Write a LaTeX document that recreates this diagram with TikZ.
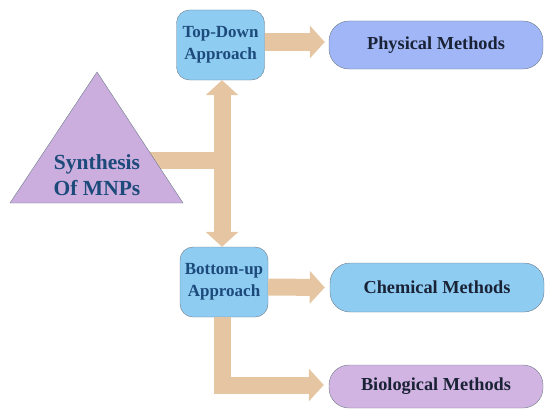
\documentclass[tikz,border=0pt]{standalone}
\usepackage{fontspec}
\setmainfont{Liberation Serif}
\usetikzlibrary{arrows.meta}
\definecolor{arrowc}{HTML}{E6C6A2}
\definecolor{skyb}{HTML}{8ECCF2}
\definecolor{peri}{HTML}{A0B6F7}
\definecolor{lav}{HTML}{D2B4E2}
\definecolor{trif}{HTML}{CBAEDE}
\definecolor{edgec}{HTML}{6E7C8A}
\definecolor{navy}{HTML}{1C4A7A}
\definecolor{dark}{HTML}{1A2236}
\tikzset{
  fatarrow/.style={draw=arrowc, line width=17pt, -{Triangle[width=32pt,length=15pt]}},
  fatline/.style={draw=arrowc, line width=17pt},
  appbox/.style={draw=edgec, fill=skyb, rounded corners=13pt, minimum width=88pt, minimum height=70pt, inner sep=0pt, align=center, font=\bfseries\fontsize{17}{22}\selectfont, text=navy},
  methbox/.style={draw=edgec, rounded corners=20pt, minimum width=214pt, inner sep=0pt, font=\bfseries\fontsize{18.3}{20}\selectfont, text=dark}
}
\begin{document}
\begin{tikzpicture}[x=1pt,y=-1pt]
\useasboundingbox (0,0) rectangle (545,412);
% nodes
\node[appbox] (top) at (220.5,45) {Top-Down\\Approach};
\node[appbox] (bot) at (224,282) {Bottom-up\\Approach};
\node[methbox, fill=peri, minimum height=48pt] (phys) at (436,45) {Physical Methods};
\node[methbox, fill=skyb, minimum height=49pt] (chem) at (437,287.5) {Chemical Methods};
\node[methbox, fill=lav, minimum height=43pt] (bio) at (436,386.5) {Biological Methods};
\coordinate (junc) at (222,160);
\coordinate (trin) at (140,160);
\coordinate (corner) at (222,385);
% arrows
\draw[fatline] (trin) -- (junc);
\draw[fatarrow] ([yshift=-8.5pt]junc) -- (top.south -| junc);
\draw[fatarrow] ([yshift=8.5pt]junc) -- (bot.north -| junc);
\draw[fatarrow] (top.east |- 0,42) -- ([xshift=-4pt]phys.west |- 0,42);
\draw[fatarrow] (bot.east |- 0,287) -- ([xshift=-5pt]chem.west);
\draw[fatarrow, line join=miter] (bot.south -| corner) -- (corner) -- ([xshift=-5pt]bio.west |- corner);
% triangle
\draw[draw=edgec, fill=trif] (97,72) coordinate (apex) -- (183,203) -- (10,203) -- cycle;
\node[align=center, font=\bfseries\fontsize{21.5}{26}\selectfont, text=navy] (syn) at (97,175) {Synthesis\\Of MNPs};
\end{tikzpicture}
\end{document}
